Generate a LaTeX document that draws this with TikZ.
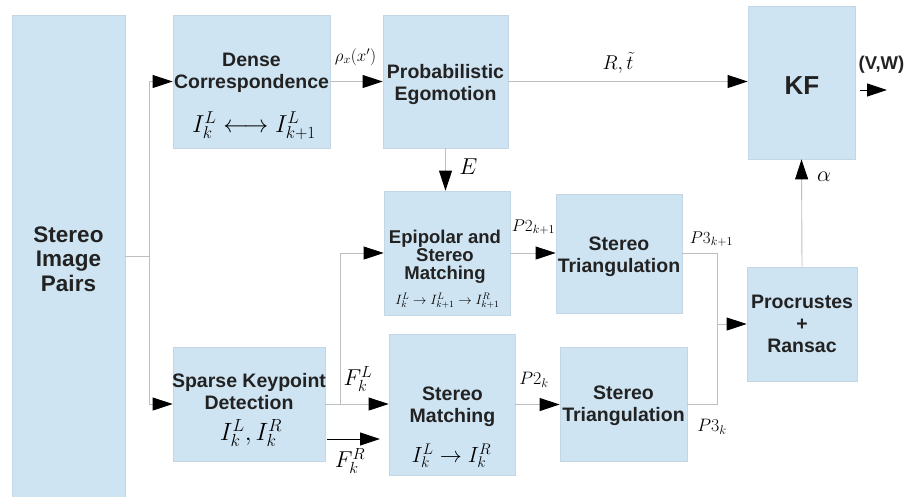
\documentclass[tikz,border=0pt]{standalone}
\usepackage{fix-cm}
\usepackage[no-math]{fontspec}
\setmainfont{Liberation Sans}
\usetikzlibrary{arrows.meta}
\definecolor{boxfill}{HTML}{CFE4F2}
\definecolor{boxline}{HTML}{C3D6E4}
\definecolor{wirec}{HTML}{BEBEBE}
\definecolor{txt}{HTML}{222222}
\tikzset{
  blk/.style={draw=boxline, fill=boxfill, line width=0.8pt, inner sep=0pt},
  ttl/.style={font=\bfseries\fontsize{19.5}{22}\selectfont, text=txt, align=center, inner sep=0pt},
  mth/.style={inner sep=0pt, text=black},
  conn/.style={draw=wirec, line width=0.9pt},
  arr/.style={conn, -{Triangle[length=20pt,width=13pt,color=black]}},
  barr/.style={draw=black, line width=0.9pt, -{Triangle[length=20pt,width=13pt]}},
}
\begin{document}
\begin{tikzpicture}[x=1pt,y=-1pt]
\useasboundingbox (0,0) rectangle (916,496);
% boxes
\node[blk, minimum width=113pt, minimum height=485pt] (sip) at (68.5,257.5) {};
\node[blk, minimum width=157pt, minimum height=133pt] (dense) at (251.5,81.5) {};
\node[blk, minimum width=125pt, minimum height=133pt] (prob) at (445.5,81.5) {};
\node[blk, minimum width=107pt, minimum height=153pt] (kf) at (801.5,82.5) {};
\node[blk, minimum width=126pt, minimum height=124pt] (epi) at (447,253) {};
\node[blk, minimum width=126pt, minimum height=119pt] (st1) at (619,253.5) {};
\node[blk, minimum width=110pt, minimum height=114pt] (proc) at (802,324) {};
\node[blk, minimum width=152pt, minimum height=114pt] (sparse) at (249,404) {};
\node[blk, minimum width=126pt, minimum height=141pt] (sm) at (452,404.5) {};
\node[blk, minimum width=127pt, minimum height=114pt] (st2) at (623.5,404) {};
% box texts
\node[ttl, font=\bfseries\fontsize{22.5}{24.5}\selectfont] (t-sip) at (68.5,259) {Stereo\\Image\\Pairs};
\node[ttl] (t-dense) at (251.5,73) {Dense\\Correspondence};
\node[mth, font=\fontsize{24.5}{27}\selectfont] (m-dense) at (254,126) {$I_k^L \longleftrightarrow I_{k+1}^L$};
\node[ttl] (t-prob) at (445.5,84) {Probabilistic\\Egomotion};
\node[ttl, font=\bfseries\fontsize{26}{30}\selectfont] (t-kf) at (802,85.5) {KF};
\node[ttl, font=\bfseries\fontsize{18.5}{17.8}\selectfont] (t-epi) at (445,257) {Epipolar and\\Stereo\\Matching};
\node[mth, font=\fontsize{13.5}{15}\selectfont] (m-epi) at (447.5,301) {$I_k^L \rightarrow I_{k+1}^L \rightarrow I_{k+1}^R$};
\node[ttl] (t-st1) at (619,256.5) {Stereo\\Triangulation};
\node[ttl] (t-proc) at (802,324) {Procrustes\\+\\Ransac};
\node[ttl] (t-sparse) at (249,391.5) {Sparse Keypoint\\Detection};
\node[mth, font=\fontsize{25}{28}\selectfont] (m-sparse) at (251,433) {$I_k^L, I_k^R$};
\node[ttl] (t-sm) at (452.5,406.5) {Stereo\\Matching};
\node[mth, font=\fontsize{22}{24}\selectfont] (m-sm) at (451.5,456) {$I_k^L \rightarrow I_k^R$};
\node[ttl] (t-st2) at (623.5,405.5) {Stereo\\Triangulation};
% labels
\node[mth, font=\fontsize{17}{20}\selectfont] (l-rho) at (355.5,57) {$\rho_x(x')$};
\node[mth, font=\fontsize{20}{22}\selectfont] (l-Rt) at (618,63) {$R,\tilde{t}$};
\node[mth, font=\fontsize{23}{25}\selectfont] (l-E) at (468.5,167) {$E$};
\node[mth, font=\fontsize{22}{24}\selectfont] (l-alpha) at (824,177) {$\alpha$};
\node[ttl, font=\bfseries\fontsize{18.5}{20}\selectfont] (l-VW) at (881.5,65) {(V,W)};
\node[mth, font=\fontsize{17}{19}\selectfont] (l-P2k1) at (533.5,227) {$P2_{k+1}$};
\node[mth, font=\fontsize{17}{19}\selectfont] (l-P3k1) at (711.5,239) {$P3_{k+1}$};
\node[mth, font=\fontsize{18}{20}\selectfont] (l-P2k) at (534,380) {$P2_k$};
\node[mth, font=\fontsize{18}{20}\selectfont] (l-P3k) at (712,427) {$P3_k$};
\node[mth, font=\fontsize{23}{25}\selectfont] (l-FL) at (358,379) {$F_k^L$};
\node[mth, font=\fontsize{23}{25}\selectfont] (l-FR) at (350,461) {$F_k^R$};
% coordinates
\coordinate (split) at (149,256);
\coordinate (fork) at (340,404);
\coordinate (merge) at (717,324);
\coordinate (kfo1) at (860,90);
\coordinate (kfo2) at (887,90);
\coordinate (fr1) at (327,439);
\coordinate (fr2) at (380,439);
% connectors
\draw[conn] (sip.east |- split) -- (split);
\draw[arr] (split) |- (dense.west);
\draw[arr] (split) |- (sparse.west);
\draw[arr] (dense.east) -- (prob.west);
\draw[arr] (prob.east) -- (prob.east -| kf.west);
\draw[arr] (prob.south) -- (prob.south |- epi.north);
\draw[arr] (proc.north) -- (kf.south);
\draw[barr] (kfo1) -- (kfo2);
\draw[conn] (sparse.east) -- (fork);
\draw[arr] (fork) -- (fork -| sm.west);
\draw[arr] (fork) |- (epi.west);
\draw[barr] (fr1) -- (fr2);
\draw[arr] (epi.east) -- (epi.east -| st1.west);
\draw[arr] (sm.east) -- (sm.east -| st2.west);
\draw[conn] (st1.east) -| (merge);
\draw[conn] (st2.east) -| (merge);
\draw[arr] (merge) -- (merge -| proc.west);
\end{tikzpicture}
\end{document}
